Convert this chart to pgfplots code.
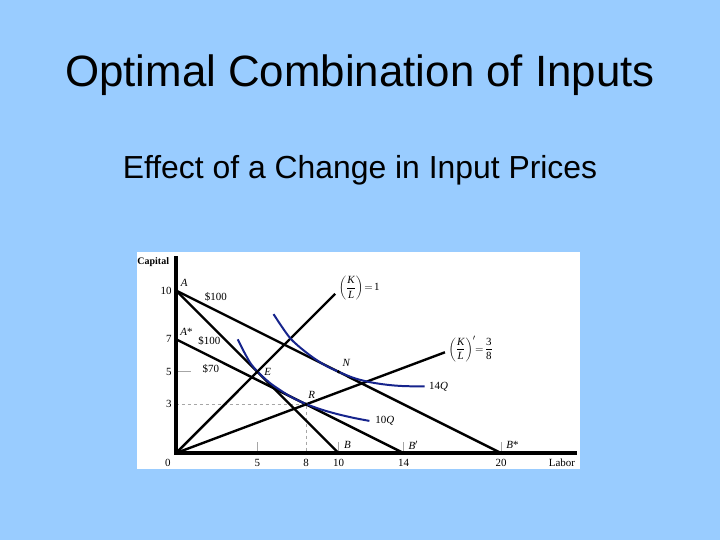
\documentclass[border=0pt]{standalone}
\usepackage{pgfplots}
\pgfplotsset{compat=1.18}
\usepackage{fontspec}
\setmainfont{Liberation Serif}
\setsansfont{Liberation Sans}
\definecolor{bg}{RGB}{153,204,255}
\definecolor{iso}{RGB}{22,36,140}
\tikzset{lab/.style={font=\rmfamily\fontsize{11}{12}\selectfont, inner sep=1pt}}
\begin{document}
\begin{tikzpicture}
\fill[bg] (0,0) rectangle (720bp,540bp);
\node[anchor=base, font=\sffamily\fontsize{44}{50}\selectfont, inner sep=0pt] at (360bp,453bp) {Optimal Combination of Inputs};
\node[anchor=base, font=\sffamily\fontsize{32}{38}\selectfont, inner sep=0pt] at (360bp,361bp) {Effect of a Change in Input Prices};
\fill[white] (137bp,71bp) rectangle (580bp,288bp);
\begin{axis}[at={(137bp,71bp)}, anchor=south west, scale only axis,
  width=443bp, height=217bp, xmin=-2.4, xmax=24.86, ymin=-0.98, ymax=12.37,
  hide axis, clip=false]
% guides
\addplot[gray!70, dashed, line width=0.6pt] coordinates {(0,3) (8,3) (8,0)};
\addplot[gray!70, line width=0.6pt] coordinates {(0,5) (0.9,5)};
\addplot[gray!70, line width=0.6pt] coordinates {(5,0) (5,0.7)};
\addplot[gray!70, line width=0.6pt] coordinates {(10,0) (10,0.7)};
\addplot[gray!70, line width=0.6pt] coordinates {(14,0) (14,0.7)};
\addplot[gray!70, line width=0.6pt] coordinates {(20,0) (20,0.7)};
% isocost lines
\addplot[black, line width=2.4pt] coordinates {(0,10) (10,0)};
\addplot[black, line width=2.4pt] coordinates {(0,10) (20,0)};
\addplot[black, line width=2.4pt] coordinates {(0,7) (14,0)};
% rays
\addplot[black, line width=2.4pt] coordinates {(0,0) (9.8,9.8)};
\addplot[black, line width=2.4pt] coordinates {(0,0) (16.55,6.2)};
% isoquants
\addplot[iso, line width=2pt, smooth] coordinates {(3.8,7.0) (4.2,6.2) (4.6,5.5) (5,5.03) (5.5,4.55) (6,4.15) (7,3.5) (8,3.02) (9,2.66) (10,2.38) (11,2.15) (11.9,1.98)};
\addplot[iso, line width=2pt, smooth] coordinates {(6.0,8.55) (7,7.1) (8,6.2) (9,5.5) (10,5.0) (11,4.6) (12,4.35) (13,4.2) (14,4.12) (15.3,4.1)};
% axes
\addplot[black, line width=4.2pt] coordinates {(0,12.1) (0,0) (24.7,0)};
% points
\addplot[only marks, mark=*, mark size=1.4pt, black] coordinates {(0,10) (0,7) (10,5) (5,5) (8,3)};
% labels
\node[lab, font=\rmfamily\bfseries\fontsize{10}{12}\selectfont] at (axis cs:-1.4,11.75) {Capital};
\node[lab] at (axis cs:23.75,-0.6) {Labor};
\node[lab, anchor=east] at (axis cs:-0.2,10) {10};
\node[lab, anchor=east] at (axis cs:-0.2,7) {7};
\node[lab, anchor=east] at (axis cs:-0.2,5) {5};
\node[lab, anchor=east] at (axis cs:-0.2,3) {3};
\node[lab] at (axis cs:-0.5,-0.6) {0};
\node[lab] at (axis cs:5,-0.6) {5};
\node[lab] at (axis cs:8,-0.6) {8};
\node[lab] at (axis cs:10,-0.6) {10};
\node[lab] at (axis cs:14,-0.6) {14};
\node[lab] at (axis cs:20,-0.6) {20};
\node[lab] at (axis cs:0.5,10.45) {\textit{A}};
\node[lab] at (axis cs:0.65,7.45) {\textit{A}*};
\node[lab] at (axis cs:2.45,9.6) {\$100};
\node[lab] at (axis cs:2.05,6.9) {\$100};
\node[lab] at (axis cs:2.15,5.2) {\$70};
\node[lab] at (axis cs:5.65,5.0) {\textit{E}};
\node[lab] at (axis cs:8.35,3.55) {\textit{R}};
\node[lab] at (axis cs:10.5,5.55) {\textit{N}};
\node[lab] at (axis cs:10.55,0.5) {\textit{B}};
\node[lab] at (axis cs:14.6,0.5) {\textit{B}$'$};
\node[lab] at (axis cs:20.7,0.5) {\textit{B}*};
\node[lab, anchor=west] at (axis cs:15.5,4.1) {14\textit{Q}};
\node[lab, anchor=west] at (axis cs:12.2,2.0) {10\textit{Q}};
\node[lab, anchor=west] at (axis cs:9.95,10.15) {$\displaystyle\biggl(\frac{\textit{K}}{\textit{L}}\biggr)\!=\!\textrm{1}$};
\node[lab, anchor=west] at (axis cs:16.7,6.4) {$\displaystyle\biggl(\frac{\textit{K}}{\textit{L}}\biggr)'\!\!=\!\frac{\textrm{3}}{\textrm{8}}$};
\end{axis}
\end{tikzpicture}
\end{document}
